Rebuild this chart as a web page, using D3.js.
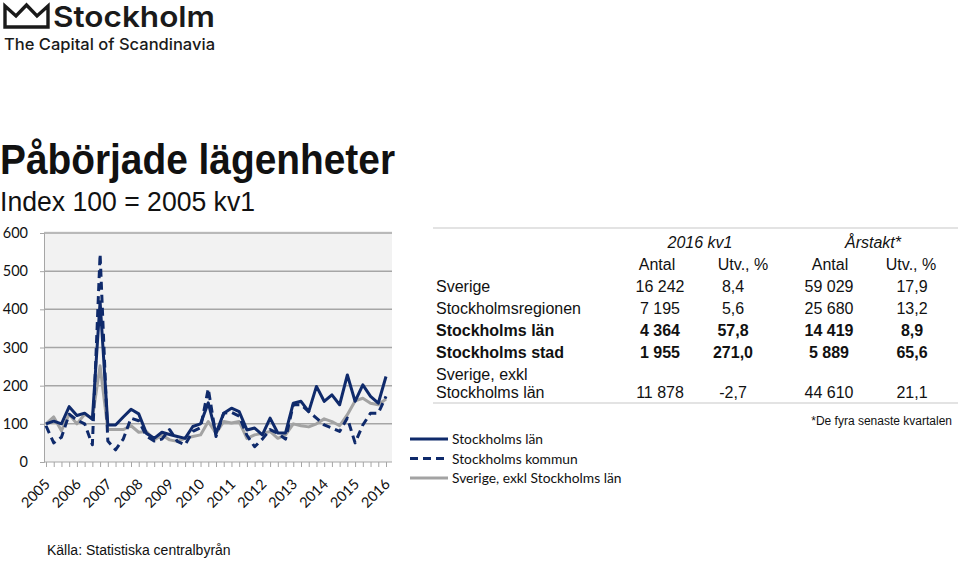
<!doctype html>
<html>
  <head>
    <meta charset="utf-8">
    <title>Påbörjade lägenheter</title>
    <script src="https://cdnjs.cloudflare.com/ajax/libs/d3/7.8.5/d3.min.js"></script>
    <style>
      body { margin: 0; background: #fff; }
      svg { display: block; }
      .tbl { font-family: "Liberation Sans", Arial, sans-serif; font-size: 16px; fill: #111; }
      .cal { font-family: Lato, "Open Sans", sans-serif; fill: #111; }
    </style>
  </head>
  <body>
    <div id="chart"></div>
    <script>

      // years on the x axis (one label per first quarter)
      const years = ['2005','2006','2007','2008','2009','2010','2011','2012','2013','2014','2015','2016'];

      // index series, 2005 kv1 .. 2016 kv1 (45 quarters)
      const stockholmsLan = [100,107,100,145,122,128,112,420,97,97,118,138,126,75,62,78,72,67,62,93,
                             100,155,75,128,141,132,84,89,71,115,76,76,154,159,132,198,159,176,150,228,
                             159,202,172,154,224];
      const stockholmsKommun = [95,50,65,125,110,100,45,545,55,32,60,115,108,68,55,60,85,54,45,80,
                                90,192,67,128,130,120,70,40,60,85,75,60,150,150,132,115,97,89,80,115,
                                50,97,128,128,172];
      const sverigeExkl = [100,118,82,125,100,125,115,252,85,85,85,95,78,80,58,71,58,54,62,67,
                           71,106,75,106,102,106,62,71,75,80,62,71,100,95,92,100,113,106,95,124,
                           160,167,154,150,165];

      const yTicks = [0,100,200,300,400,500,600];

      const legendNames = ['Stockholms län','Stockholms kommun','Sverige, exkl Stockholms län'];

      // table
      const tableHeads = ['2016 kv1','Årstakt*'];
      const tableCols = ['Antal','Utv., %','Antal','Utv., %'];
      const tableRows = [
        {name: ['Sverige'], vals: ['16 242','8,4','59 029','17,9'], bold: false},
        {name: ['Stockholmsregionen'], vals: ['7 195','5,6','25 680','13,2'], bold: false},
        {name: ['Stockholms län'], vals: ['4 364','57,8','14 419','8,9'], bold: true},
        {name: ['Stockholms stad'], vals: ['1 955','271,0','5 889','65,6'], bold: true},
        {name: ['Sverige, exkl','Stockholms län'], vals: ['11 878','-2,7','44 610','21,1'], bold: false}
      ];

      const navy = '#0f2a6b', grey = '#a3a3a3';

      const svg = d3.select('#chart')
        .append('svg')
        .attr('width', 960)
        .attr('height', 561);

      // ---- logo
      const logo = svg.append('g');
      logo.append('path')
        .attr('d', 'M5,27 L5,6 L16,16 L26.5,5 L37,16 L48,6 L48,27 Z')
        .attr('fill', 'none')
        .attr('stroke', '#1a1a1a')
        .attr('stroke-width', 3.4)
        .attr('stroke-linejoin', 'miter');
      logo.append('text')
        .attr('x', 53).attr('y', 27)
        .attr('font-family', 'Inter, "Noto Sans", sans-serif')
        .attr('font-weight', 600)
        .attr('font-size', 29)
        .attr('textLength', 162).attr('lengthAdjust', 'spacingAndGlyphs')
        .attr('fill', '#1a1a1a')
        .text('Stockholm');
      logo.append('text')
        .attr('x', 4).attr('y', 50)
        .attr('font-family', 'Inter, "Noto Sans", sans-serif')
        .attr('font-weight', 500)
        .attr('font-size', 16)
        .attr('textLength', 211).attr('lengthAdjust', 'spacingAndGlyphs')
        .attr('fill', '#1a1a1a')
        .text('The Capital of Scandinavia');

      // ---- titles
      svg.append('text')
        .attr('x', 0).attr('y', 174)
        .attr('font-family', '"Liberation Sans", Arial, sans-serif')
        .attr('font-weight', 'bold')
        .attr('font-size', 42)
        .attr('textLength', 395).attr('lengthAdjust', 'spacingAndGlyphs')
        .attr('fill', '#111')
        .text('Påbörjade lägenheter');
      svg.append('text')
        .attr('x', 0).attr('y', 211)
        .attr('font-family', '"Liberation Sans", Arial, sans-serif')
        .attr('font-size', 28)
        .attr('textLength', 255).attr('lengthAdjust', 'spacingAndGlyphs')
        .attr('fill', '#111')
        .text('Index 100 = 2005 kv1');

      // ---- chart
      const x = d3.scaleLinear().domain([0, 44]).range([46, 386]);
      const y = d3.scaleLinear().domain([0, 600]).range([462, 233]);

      svg.append('rect')
        .attr('x', 44).attr('y', 231)
        .attr('width', 348).attr('height', 231)
        .attr('fill', '#f2f2f2');

      // gridlines
      svg.append('g')
        .selectAll('line')
        .data(yTicks.filter(d => d > 0))
        .join('line')
        .attr('x1', 44).attr('x2', 392)
        .attr('y1', d => y(d)).attr('y2', d => y(d))
        .attr('stroke', '#a6a6a6')
        .attr('stroke-width', 1.5);

      // y axis
      const yAxis = svg.append('g')
        .attr('transform', 'translate(44,0)')
        .call(d3.axisLeft(y).tickValues(yTicks).tickSize(4).tickPadding(12));
      yAxis.select('.domain').attr('stroke', '#a6a6a6');
      yAxis.selectAll('.tick line').attr('stroke', '#a6a6a6');
      yAxis.selectAll('text')
        .attr('class', 'cal')
        .attr('font-size', 14.5)
        .attr('fill', '#111');

      // x axis, a tick every quarter
      const qs = d3.range(45);
      const xAxis = svg.append('g')
        .attr('transform', 'translate(0,462)')
        .call(d3.axisBottom(x).tickValues(qs).tickSize(5).tickFormat(''));
      xAxis.select('.domain').attr('stroke', '#a6a6a6').attr('d', 'M44,0H392');
      xAxis.selectAll('.tick line').attr('stroke', '#a6a6a6');

      svg.append('g')
        .selectAll('text')
        .data(years)
        .join('text')
        .attr('class', 'cal')
        .attr('font-size', 14.5)
        .attr('text-anchor', 'end')
        .attr('transform', (d, i) => `translate(${x(i * 4) + 5},485) rotate(-45)`)
        .text(d => d);

      const line = d3.line()
        .x((d, i) => x(i))
        .y(d => y(d));

      const series = [
        {vals: sverigeExkl, color: grey, dash: null},
        {vals: stockholmsKommun, color: navy, dash: '8,5'},
        {vals: stockholmsLan, color: navy, dash: null}
      ];

      svg.append('g')
        .selectAll('path')
        .data(series)
        .join('path')
        .attr('d', d => line(d.vals))
        .attr('fill', 'none')
        .attr('stroke', d => d.color)
        .attr('stroke-width', 3)
        .attr('stroke-linejoin', 'round')
        .attr('stroke-dasharray', d => d.dash);

      // ---- legend
      const legendStyle = [
        {color: navy, dash: null},
        {color: navy, dash: '8,5'},
        {color: grey, dash: null}
      ];
      const legend = svg.append('g')
        .selectAll('g')
        .data(legendNames)
        .join('g')
        .attr('transform', (d, i) => `translate(410,${439 + i * 19.5})`);
      legend.append('line')
        .attr('x1', 0).attr('x2', 38)
        .attr('stroke', (d, i) => legendStyle[i].color)
        .attr('stroke-width', 3)
        .attr('stroke-dasharray', (d, i) => legendStyle[i].dash);
      legend.append('text')
        .attr('class', 'cal')
        .attr('x', 42).attr('y', 5)
        .attr('font-size', 13.8)
        .text(d => d);

      // ---- table
      const colX = [660, 733, 829, 912];
      const headX = [657, 743, 830, 911];
      const tbl = svg.append('g').attr('class', 'tbl');

      tbl.append('line')
        .attr('x1', 433).attr('x2', 958).attr('y1', 228).attr('y2', 228)
        .attr('stroke', '#e3e3e3').attr('stroke-width', 2);
      tbl.append('line')
        .attr('x1', 433).attr('x2', 958).attr('y1', 403).attr('y2', 403)
        .attr('stroke', '#e3e3e3').attr('stroke-width', 2);

      tbl.selectAll('text.head')
        .data(tableHeads)
        .join('text')
        .attr('class', 'head')
        .attr('x', (d, i) => i === 0 ? 700 : 873)
        .attr('y', 248)
        .attr('text-anchor', 'middle')
        .attr('font-style', 'italic')
        .text(d => d);

      tbl.selectAll('text.col')
        .data(tableCols)
        .join('text')
        .attr('class', 'col')
        .attr('x', (d, i) => headX[i])
        .attr('y', 270)
        .attr('text-anchor', 'middle')
        .text(d => d);

      const rowY = [292, 314, 336, 358, 398];
      const rows = tbl.selectAll('g.row')
        .data(tableRows)
        .join('g')
        .attr('class', 'row')
        .attr('font-weight', d => d.bold ? 'bold' : 'normal')
        .attr('transform', (d, i) => `translate(0,${rowY[i]})`);

      rows.selectAll('text.name')
        .data(d => d.name)
        .join('text')
        .attr('class', 'name')
        .attr('x', 436)
        .attr('y', (d, i, n) => (i - (n.length - 1)) * 18)
        .text(d => d);

      rows.selectAll('text.val')
        .data(d => d.vals)
        .join('text')
        .attr('class', 'val')
        .attr('x', (d, i) => colX[i])
        .attr('text-anchor', 'middle')
        .text(d => d);

      svg.append('text')
        .attr('x', 952).attr('y', 425)
        .attr('text-anchor', 'end')
        .attr('font-family', '"Liberation Sans", Arial, sans-serif')
        .attr('font-size', 12)
        .attr('fill', '#111')
        .text('*De fyra senaste kvartalen');

      // source
      svg.append('text')
        .attr('x', 47).attr('y', 555)
        .attr('font-family', '"Liberation Sans", Arial, sans-serif')
        .attr('font-size', 14)
        .attr('fill', '#111')
        .text('Källa: Statistiska centralbyrån');

    </script>
  </body>
</html>
